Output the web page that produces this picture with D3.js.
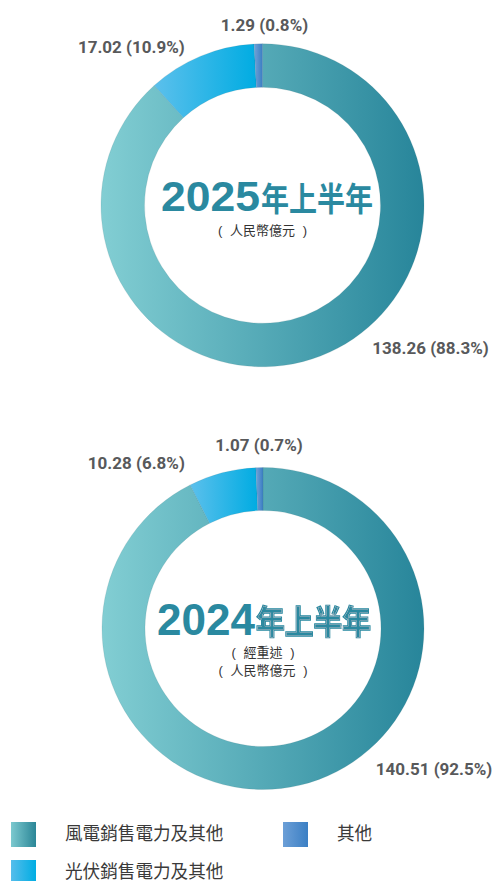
<!DOCTYPE html>
<html><head><meta charset="utf-8">
<script src="https://cdn.jsdelivr.net/npm/d3@7"></script>
<style>
html,body{margin:0;padding:0;background:#fff;}
svg{display:block;}
</style></head>
<body>
<script>
// ---- data ----
const categories = ["風電銷售電力及其他", "光伏銷售電力及其他", "其他"];
const values2025 = [138.26, 17.02, 1.29];
const percents2025 = ["88.3%", "10.9%", "0.8%"];
const values2024 = [140.51, 10.28, 1.07];
const percents2024 = ["92.5%", "6.8%", "0.7%"];
const titles = ["2025", "2024"];
const titleSuffix = "年上半年";
const subtitles2025 = ["人民幣億元"];
const subtitles2024 = ["經重述", "人民幣億元"];

const W = 495, H = 881;
const svg = d3.select("body").append("svg").attr("width", W).attr("height", H);
const defs = svg.append("defs");

function lin(id, c1, c2, units, x1, x2) {
  const g = defs.append("linearGradient").attr("id", id)
    .attr("x1", x1).attr("x2", x2).attr("y1", 0).attr("y2", 0);
  if (units) g.attr("gradientUnits", units);
  g.append("stop").attr("offset", "0%").attr("stop-color", c1);
  g.append("stop").attr("offset", "100%").attr("stop-color", c2);
  return "url(#" + id + ")";
}
const R = 161.5;
const windFill = lin("gWind", "#82ced3", "#27859a", "userSpaceOnUse", -R, R);
const solarFill = lin("gSolar", "#5cc0ec", "#00ace2", null, "0%", "100%");
const otherFill = lin("gOther", "#72a2d8", "#3a7ec3", null, "0%", "100%");
const legWind = lin("lWind", "#7cc9cf", "#2b8697", null, "0%", "100%");
const legSolar = lin("lSolar", "#55bdeb", "#00ade3", null, "0%", "100%");
const legOther = lin("lOther", "#6c9fd7", "#3b7fc4", null, "0%", "100%");
const fills = [windFill, solarFill, otherFill];
const legFills = [legWind, legSolar, legOther];

// inner white line filter (for the 2024 title suffix)
const flt = defs.append("filter").attr("id", "innerLine")
  .attr("x", "-5%").attr("y", "-5%").attr("width", "110%").attr("height", "110%");
flt.append("feMorphology").attr("in", "SourceAlpha").attr("operator", "erode").attr("radius", 1.0).attr("result", "a");
flt.append("feMorphology").attr("in", "SourceAlpha").attr("operator", "erode").attr("radius", 1.4).attr("result", "b");
flt.append("feComposite").attr("in", "a").attr("in2", "b").attr("operator", "out").attr("result", "ring");
flt.append("feFlood").attr("flood-color", "#ffffff").attr("flood-opacity", 0.8).attr("result", "w");
flt.append("feComposite").attr("in", "w").attr("in2", "ring").attr("operator", "in").attr("result", "wring");
const fm = flt.append("feMerge");
fm.append("feMergeNode").attr("in", "SourceGraphic");
fm.append("feMergeNode").attr("in", "wring");

const pie = d3.pie().sort(null).value(d => d);
const teal = "#2a89a0";
const labelColor = "#58595b";
const cjk = "'Noto Sans CJK TC', sans-serif";

function donut(cfg) {
  const g = svg.append("g").attr("transform", `translate(${cfg.cx},${cfg.cy})`);
  const arc = d3.arc().innerRadius(cfg.ri).outerRadius(cfg.ro);
  const arcs = pie(cfg.values);
  g.selectAll("path.seg").data(arcs).enter().append("path")
    .attr("class", "seg")
    .attr("d", arc)
    .attr("fill", (d, i) => fills[i])
    .attr("stroke", "rgba(60,110,120,0.35)")
    .attr("stroke-width", 0.4);

  // value labels
  const fmt = d3.format(".2f");
  g.selectAll("text.val").data(arcs).enter().append("text")
    .attr("class", "val")
    .attr("x", (d, i) => cfg.labelPos[i][0])
    .attr("y", (d, i) => cfg.labelPos[i][1])
    .attr("text-anchor", "middle")
    .attr("font-family", "Roboto, 'Liberation Sans', sans-serif")
    .attr("font-weight", 700)
    .attr("font-size", 17)
    .attr("fill", labelColor)
    .text((d, i) => `${fmt(d.value)} (${cfg.percents[i]})`);

  // title
  g.append("text")
    .attr("x", cfg.titleX).attr("y", cfg.titleY)
    .attr("font-family", "'Liberation Sans', Arial, sans-serif")
    .attr("font-weight", 700)
    .attr("font-size", cfg.titleSize)
    .attr("textLength", cfg.titleLen)
    .attr("lengthAdjust", "spacingAndGlyphs")
    .attr("fill", teal)
    .text(cfg.title);
  const suf = g.append("text")
    .attr("x", cfg.sufX).attr("y", cfg.sufY)
    .attr("font-family", cjk)
    .attr("font-weight", 700)
    .attr("font-size", cfg.sufSize)
    .attr("textLength", cfg.sufLen)
    .attr("lengthAdjust", "spacingAndGlyphs")
    .attr("fill", teal)
    .text(titleSuffix);
  if (cfg.outlined) {
    suf.attr("stroke", teal).attr("stroke-width", 1.6).attr("filter", "url(#innerLine)");
  }
  cfg.subtitles.forEach((s, i) => {
    const y = cfg.subY + i * 18;
    const half = (s.length + 2) * 13 / 2;
    const common = t => t.attr("y", y).attr("font-family", cjk)
      .attr("font-size", 13).attr("fill", "#333");
    common(g.append("text")).attr("x", 0).attr("text-anchor", "middle").text(s);
    common(g.append("text")).attr("x", -half + 1).attr("text-anchor", "start")
      .attr("font-family", "'Liberation Sans', sans-serif").text("(");
    common(g.append("text")).attr("x", half - 1).attr("text-anchor", "end")
      .attr("font-family", "'Liberation Sans', sans-serif").text(")");
  });
}

donut({
  cx: 262.5, cy: 205.3, ri: 118, ro: R,
  values: values2025, percents: percents2025,
  labelPos: [[168, 148.7], [-131.2, -152], [2, -174.8]],
  title: titles[0], titleX: -101.5, titleY: 5.4, titleSize: 42, titleLen: 99,
  sufX: -1.5, sufY: 5.5, sufSize: 33, sufLen: 112, outlined: false,
  subtitles: subtitles2025, subX: 0, subY: 29.5
});

donut({
  cx: 263, cy: 628.5, ri: 118, ro: 161,
  values: values2024, percents: percents2024,
  labelPos: [[171, 146.5], [-126.7, -159.2], [-4, -177.8]],
  title: titles[1], titleX: -106, titleY: 6.5, titleSize: 44, titleLen: 98,
  sufX: -7, sufY: 5.5, sufSize: 33.5, sufLen: 115, outlined: true,
  subtitles: subtitles2024, subX: 0, subY: 28.5
});

// legend
const legPos = [[11, 822], [11, 860], [283, 822]];
const leg = svg.append("g");
categories.forEach((c, i) => {
  leg.append("rect")
    .attr("x", legPos[i][0]).attr("y", legPos[i][1])
    .attr("width", 25).attr("height", 25)
    .attr("fill", legFills[i]);
  leg.append("text")
    .attr("x", legPos[i][0] + 54).attr("y", legPos[i][1] + 17.5)
    .attr("font-family", cjk)
    .attr("font-size", 18.5)
    .attr("textLength", c.length * 17.6)
    .attr("lengthAdjust", "spacingAndGlyphs")
    .attr("fill", "#3a3a3a")
    .text(c);
});
</script>
</body></html>
